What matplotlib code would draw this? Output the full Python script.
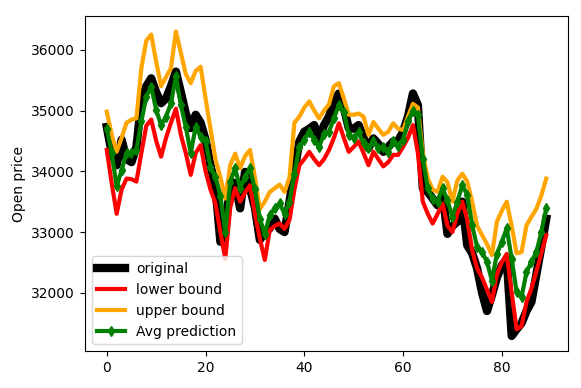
import matplotlib
matplotlib.use("Agg")
import matplotlib.pyplot as plt
import numpy as np

original = [34730, 34300, 34100, 34520, 34200, 34150, 34400, 35150, 35400, 35530,
            35300, 35120, 35200, 35400, 35640, 35300, 34950, 34710, 34930, 34800,
            34520, 34100, 33740, 32840, 33000, 33830, 33800, 33390, 33990, 33720,
            33400, 32870, 33000, 33060, 33220, 33050, 33000, 33500, 34000, 34490,
            34650, 34700, 34760, 34540, 34760, 34900, 35150, 35280, 35050, 34710,
            34700, 34760, 34550, 34380, 34540, 34450, 34320, 34400, 34490, 34500,
            34650, 34900, 35280, 35090, 33720, 33660, 33550, 33440, 33610, 32970,
            33100, 33170, 33500, 32780, 32650, 32400, 32000, 31700, 31960, 32250,
            32450, 32560, 31290, 31400, 31500, 31700, 31850, 32300, 32750, 33220]

lower = [34350, 33800, 33300, 33700, 33880, 33870, 33830, 34300, 34750, 34850,
         34500, 34240, 34550, 34800, 35030, 34600, 34300, 33940, 34300, 34430,
         34000, 33700, 33470, 33000, 32560, 33400, 33720, 33500, 33650, 33770,
         33300, 32890, 32540, 33030, 33100, 33140, 33050, 33200, 33700, 34100,
         34200, 34320, 34200, 34100, 34200, 34350, 34550, 34790, 34550, 34320,
         34400, 34490, 34300, 34100, 34320, 34200, 34080, 34150, 34270, 34270,
         34400, 34550, 34760, 34300, 33500, 33300, 33140, 33300, 33470, 33100,
         33000, 33300, 33500, 33200, 32700, 32400, 32250, 32050, 31850, 32300,
         32500, 32640, 32000, 31400, 31450, 31850, 32070, 32350, 32650, 32950]

upper = [34980, 34600, 34320, 34550, 34800, 34850, 34870, 35700, 36150, 36250,
         35800, 35400, 35550, 35700, 36300, 35950, 35600, 35450, 35650, 35720,
         35200, 34700, 34200, 33900, 33550, 34100, 34290, 34050, 34250, 34350,
         33900, 33380, 33500, 33660, 33720, 33780, 33660, 33900, 34800, 34900,
         35050, 35150, 35000, 34870, 35000, 35100, 35400, 35450, 35200, 34930,
         34930, 34950, 34900, 34600, 34810, 34700, 34600, 34650, 34790, 34700,
         34680, 34900, 35110, 35050, 34300, 33880, 33700, 33660, 33910, 33820,
         33500, 33850, 33960, 33830, 33500, 33100, 32950, 32800, 32620, 33170,
         33350, 33500, 33100, 32650, 32670, 33110, 33250, 33380, 33600, 33880]

avg_pred = [34700, 34300, 33750, 34020, 34300, 34300, 34350, 34820, 35230, 35390,
            35010, 34760, 34900, 35120, 35560, 35090, 34730, 34300, 34730, 34570,
            34490, 34070, 33900, 33600, 33000, 33830, 34050, 33720, 33910, 34050,
            33700, 33220, 32970, 33280, 33390, 33470, 33300, 33500, 33960, 34400,
            34520, 34650, 34520, 34400, 34620, 34650, 34870, 35090, 34980, 34600,
            34540, 34650, 34460, 34380, 34490, 34380, 34400, 34320, 34490, 34420,
            34520, 34820, 35000, 34930, 34210, 33720, 33550, 33500, 33720, 33520,
            33250, 33500, 33770, 33610, 33110, 32750, 32670, 32510, 32200, 32640,
            32840, 33060, 32560, 32010, 31930, 32340, 32510, 32670, 33000, 33390]

days = np.arange(len(original))

fig, ax = plt.subplots(figsize=(5.81, 3.88), dpi=100)
fig.subplots_adjust(left=0.146, right=0.978, bottom=0.095, top=0.958)

ax.plot(days, original, color='black', linewidth=6, label='original')
ax.plot(days, lower, color='red', linewidth=3, label='lower bound')
ax.plot(days, upper, color='orange', linewidth=3, label='upper bound')
ax.plot(days, avg_pred, color='green', linewidth=3, marker='d', markersize=5,
        label='Avg prediction')

ax.set_ylabel('Open price')
ax.legend(loc='lower left')

fig.savefig('out.png', dpi=100)
